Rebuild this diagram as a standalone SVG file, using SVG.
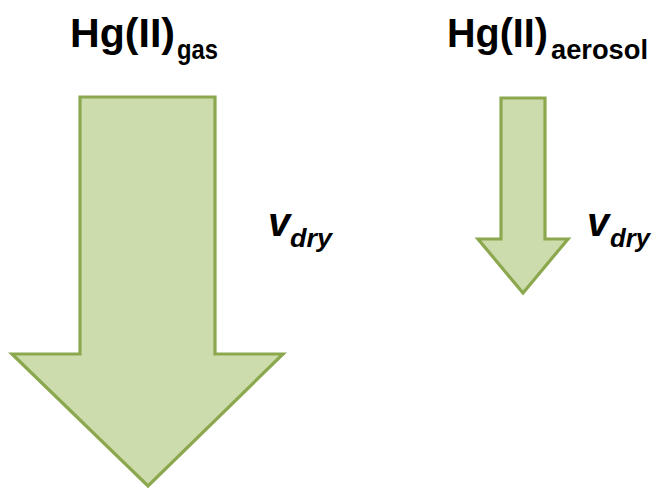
<svg xmlns="http://www.w3.org/2000/svg" width="657" height="489" viewBox="0 0 657 489">
<style>
.arrow{fill:#cddcac;stroke:#8ba84f;stroke-width:3.2;stroke-linejoin:miter}
.t{font-family:"Liberation Sans",Arial,sans-serif;font-weight:bold;fill:#000}
.v{font-family:"Liberation Sans",Arial,sans-serif;font-weight:bold;font-style:italic;fill:#000}
</style>
<rect width="657" height="489" fill="#fff"/>
<g id="gas">
<polygon class="arrow" points="80,97 215,97 215,354 283,354 148,486 12,354 80,354"/>
<text class="t" x="70" y="47" font-size="40" textLength="105" lengthAdjust="spacingAndGlyphs">Hg(II)</text>
<text class="t" x="177" y="59" font-size="28" textLength="41" lengthAdjust="spacingAndGlyphs">gas</text>
<text class="v" x="268" y="236" font-size="40">v</text>
<text class="v" x="290" y="247" font-size="25" textLength="42" lengthAdjust="spacingAndGlyphs">dry</text>
</g>
<g id="aerosol">
<polygon class="arrow" points="501,98 545,98 545,239 568,239 523,293 478,239 501,239"/>
<text class="t" x="447" y="47" font-size="40" textLength="101" lengthAdjust="spacingAndGlyphs">Hg(II)</text>
<text class="t" x="551" y="59" font-size="28" textLength="97" lengthAdjust="spacingAndGlyphs">aerosol</text>
<text class="v" x="587" y="236" font-size="40">v</text>
<text class="v" x="610" y="247" font-size="25" textLength="40" lengthAdjust="spacingAndGlyphs">dry</text>
</g>
<g id="connectors"/>
</svg>
